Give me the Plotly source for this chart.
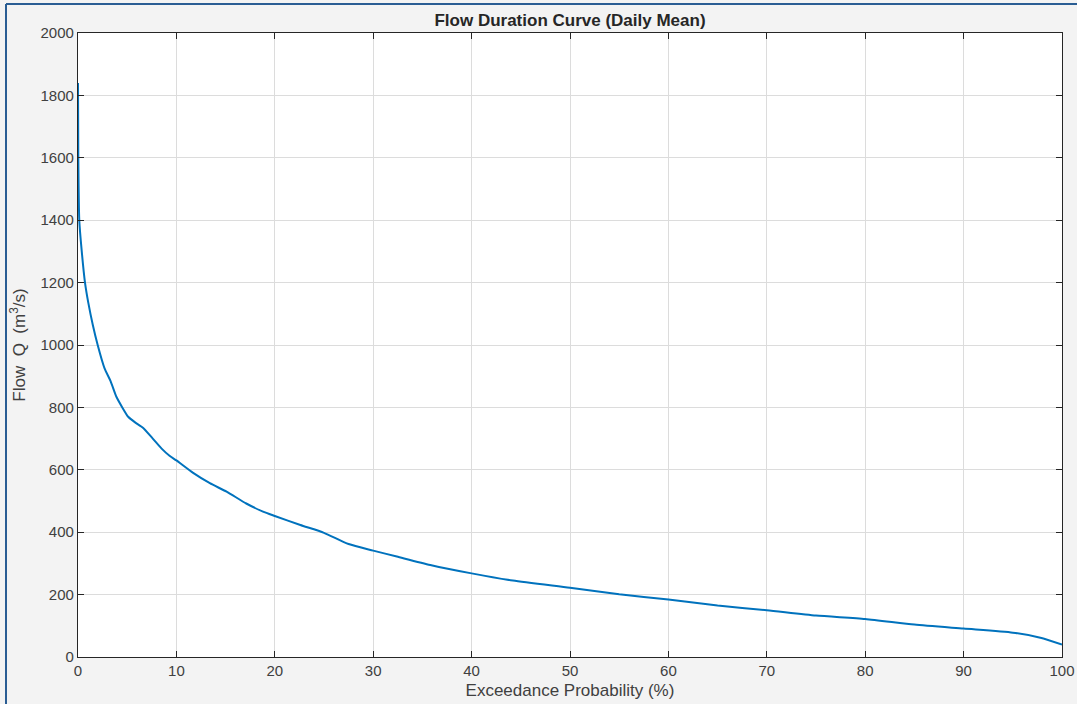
import plotly.graph_objects as go

exceedance_pct = [0, 0.03, 0.13, 0.37, 0.71, 1.05, 1.5, 2.0, 2.7, 3.3, 3.9, 4.5, 5.1, 5.8,
                  6.6, 7.6, 8.5, 9.3, 10, 11.7, 13.4, 15.1, 17.1, 18.8, 20, 22.6, 25, 27.5,
                  30, 32.4, 35.8, 40, 44.2, 50, 55, 60, 65, 70, 75, 80, 85, 90, 95, 97.8, 100]
flow_q = [1840, 1600, 1400, 1304, 1200, 1135, 1065, 1000, 925, 885, 834, 800, 770, 752,
          735, 700, 668, 645, 630, 590, 557, 530, 492, 466, 452, 423, 398, 362,
          341, 322, 295, 268, 245, 222, 201, 184, 165, 150, 133, 122, 104, 91, 78, 62, 40]

x_ticks = list(range(0, 101, 10))
y_ticks = list(range(0, 2001, 200))

W, H = 1077, 704
L, R, T, B = 78, 1062, 33, 657

fig = go.Figure()
fig.add_trace(go.Scatter(x=exceedance_pct, y=flow_q, mode="lines", line_shape="spline",
                         line=dict(color="#0072BD", width=2, smoothing=0.6), showlegend=False))

font_fam = "Liberation Sans, Arial"
axis_common = dict(showgrid=True, gridcolor="#dcdcdc", gridwidth=1,
                   showline=True, linecolor="#262626", linewidth=1.2,
                   mirror="ticks", ticks="inside", ticklen=6, tickcolor="#262626",
                   zeroline=False, automargin=False,
                   tickfont=dict(family=font_fam, size=15, color="#404040"))

fig.update_xaxes(range=[0, 100], tickvals=x_ticks, **axis_common,
                 title=dict(text="Exceedance Probability (%)", standoff=6,
                            font=dict(family=font_fam, size=17, color="#404040")))
fig.update_yaxes(range=[0, 2000], tickvals=y_ticks, **axis_common,
                 title=dict(text="Flow  Q  (m<sup>3</sup>/s)", standoff=10,
                            font=dict(family=font_fam, size=17, color="#404040")))

def px_x(p):
    return (p - L) / (R - L)

def px_y(p):
    return (B - p) / (B - T)

fig.update_layout(
    width=W, height=H,
    margin=dict(l=L, r=W - R, t=T, b=H - B),
    paper_bgcolor="#f3f3f3", plot_bgcolor="#ffffff",
    title=dict(text="<b>Flow Duration Curve (Daily Mean)</b>", x=570 / W, xanchor="center",
               y=1 - 20 / H, yanchor="middle",
               font=dict(family=font_fam, size=17, color="#262626")),
    shapes=[
        dict(type="line", xref="paper", yref="paper", x0=px_x(6), x1=px_x(6), y0=px_y(4), y1=px_y(704),
             line=dict(color="#2a5d93", width=2)),
        dict(type="line", xref="paper", yref="paper", x0=px_x(6), x1=px_x(1077), y0=px_y(4), y1=px_y(4),
             line=dict(color="#2a5d93", width=2)),
    ],
)

fig.write_html("out.html", config={"displayModeBar": False},
               post_script="document.body.style.margin='0px';document.body.style.overflow='hidden';")
